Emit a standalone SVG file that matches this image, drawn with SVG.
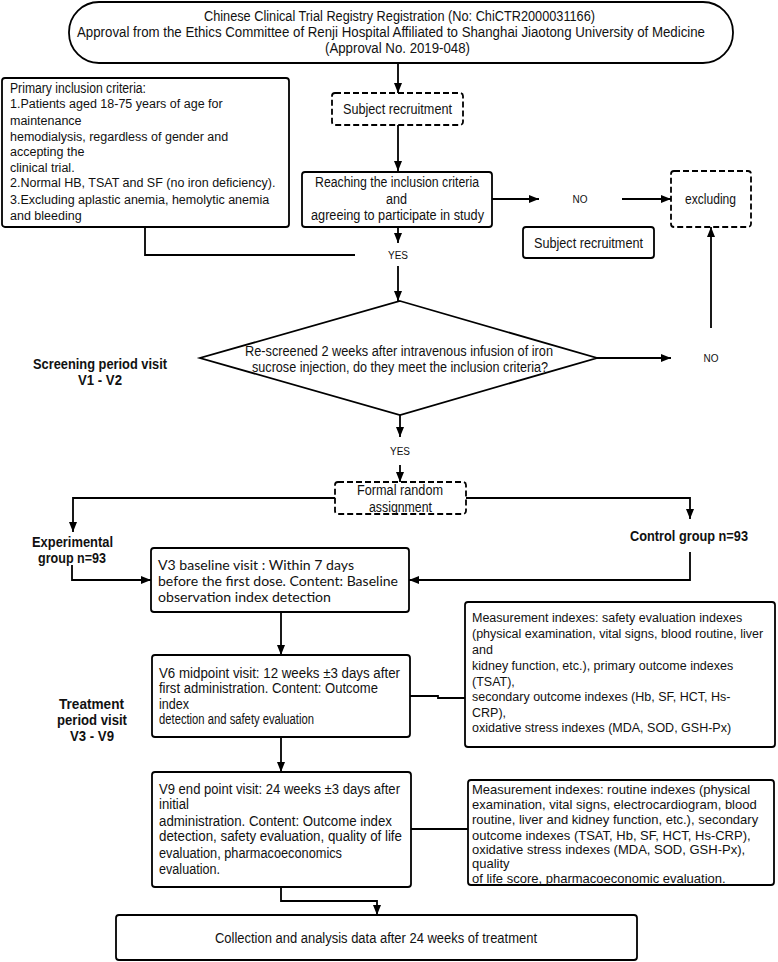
<svg xmlns="http://www.w3.org/2000/svg" width="778" height="962" viewBox="0 0 778 962">
<defs>
<marker id="a" viewBox="0 0 10 8" refX="10" refY="4" markerWidth="10" markerHeight="8" orient="auto" markerUnits="userSpaceOnUse">
<path d="M0,0 L10,4 L0,8 z" fill="#000"/>
</marker>
</defs>
<style>
rect,polygon{fill:#fff;stroke:#000;stroke-width:1.8}
.d{stroke-dasharray:6,3}
.c line,.c polyline{fill:none;stroke:#000;stroke-width:1.8}
text{font-family:"Liberation Sans",Arial,sans-serif;font-size:14px;fill:#111;dominant-baseline:central}
.b{font-weight:bold;font-size:15px}
.s{font-size:10px;text-anchor:middle}
.r{font-size:12.5px}
.r2{font-size:13px}
.o{font-family:Lato,"Open Sans",sans-serif;font-size:13px}
</style>
<rect width="778" height="962" style="fill:#fff;stroke:none"/>
<g class="c">
<line x1="398" y1="63" x2="398" y2="93" marker-end="url(#a)"/>
<line x1="398" y1="125" x2="398" y2="171" marker-end="url(#a)"/>
<line x1="398" y1="228" x2="398" y2="243" marker-end="url(#a)"/>
<polyline points="145,227 145,255 355,255"/>
<line x1="398" y1="266" x2="398" y2="301" marker-end="url(#a)"/>
<line x1="492" y1="199" x2="539" y2="199" marker-end="url(#a)"/>
<line x1="622" y1="199" x2="671" y2="199" marker-end="url(#a)"/>
<line x1="597" y1="358" x2="671" y2="358" marker-end="url(#a)"/>
<line x1="711" y1="328" x2="711" y2="227" marker-end="url(#a)"/>
<line x1="400" y1="415" x2="400" y2="437" marker-end="url(#a)"/>
<line x1="400" y1="465" x2="400" y2="482" marker-end="url(#a)"/>
<polyline points="335,498 73,498 73,532" marker-end="url(#a)"/>
<polyline points="466,498 690,498 690,519" marker-end="url(#a)"/>
<polyline points="72,565 72,580 151,580" marker-end="url(#a)"/>
<polyline points="690,552 690,580 409,580" marker-end="url(#a)"/>
<line x1="281" y1="612" x2="281" y2="655" marker-end="url(#a)"/>
<polyline points="410,696 438,696 438,698 465,698"/>
<line x1="281" y1="737" x2="281" y2="772" marker-end="url(#a)"/>
<line x1="411" y1="829" x2="468" y2="829"/>
<polyline points="281,887 281,901 377,901 377,915" marker-end="url(#a)"/>
</g>
<g id="registry">
<rect x="69" y="2" width="664" height="61" rx="30"/>
<text x="204" y="16" textLength="391" lengthAdjust="spacingAndGlyphs">Chinese Clinical Trial Registry Registration (No: ChiCTR2000031166)</text>
<text x="77" y="32" textLength="628" lengthAdjust="spacingAndGlyphs">Approval from the Ethics Committee of Renji Hospital Affiliated to Shanghai Jiaotong University of Medicine</text>
<text x="325" y="48" textLength="145" lengthAdjust="spacingAndGlyphs">(Approval No. 2019-048)</text>
</g>
<g id="recruit">
<rect class="d" x="332" y="93" width="131" height="32" rx="3"/>
<text x="343" y="109" textLength="109" lengthAdjust="spacingAndGlyphs">Subject recruitment</text>
</g>
<g id="criteria">
<rect x="2" y="78" width="287" height="149" rx="3"/>
<text x="10" y="88" textLength="136" lengthAdjust="spacingAndGlyphs">Primary inclusion criteria:</text>
<text class="r" x="10" y="104">1.Patients aged 18-75 years of age for</text>
<text class="r" x="10" y="121">maintenance</text>
<text class="r" x="10" y="137">hemodialysis, regardless of gender and</text>
<text class="r" x="10" y="152">accepting the</text>
<text class="r" x="10" y="168">clinical trial.</text>
<text class="r" x="10" y="183">2.Normal HB, TSAT and SF (no iron deficiency).</text>
<text class="r" x="10" y="200">3.Excluding aplastic anemia, hemolytic anemia</text>
<text class="r" x="10" y="216">and bleeding</text>
</g>
<g id="reaching">
<rect x="302" y="172" width="190" height="55" rx="3"/>
<text x="315" y="182" textLength="164" lengthAdjust="spacingAndGlyphs">Reaching the inclusion criteria</text>
<text x="386" y="199" textLength="21" lengthAdjust="spacingAndGlyphs">and</text>
<text x="311" y="215" textLength="173" lengthAdjust="spacingAndGlyphs">agreeing to participate in study</text>
</g>
<g id="no1"><text class="s" x="580" y="199">NO</text></g>
<g id="excluding">
<rect class="d" x="671" y="171" width="80" height="56" rx="3"/>
<text x="685" y="199" textLength="51" lengthAdjust="spacingAndGlyphs">excluding</text>
</g>
<g id="recruit2">
<rect x="523" y="227" width="131" height="31" rx="3"/>
<text x="534" y="243" textLength="109" lengthAdjust="spacingAndGlyphs">Subject recruitment</text>
</g>
<g id="yes1"><text class="s" x="398" y="255">YES</text></g>
<g id="rescreen">
<polygon points="400,301 597,358 400,415 200,358"/>
<text x="245" y="351" textLength="308" lengthAdjust="spacingAndGlyphs">Re-screened 2 weeks after intravenous infusion of iron</text>
<text x="252" y="367" textLength="296" lengthAdjust="spacingAndGlyphs">sucrose injection, do they meet the inclusion criteria?</text>
</g>
<g id="screening">
<text class="b" x="33" y="363" textLength="134" lengthAdjust="spacingAndGlyphs">Screening period visit</text>
<text class="b" x="78" y="379" textLength="44" lengthAdjust="spacingAndGlyphs">V1 - V2</text>
</g>
<g id="no2"><text class="s" x="711" y="358">NO</text></g>
<g id="yes2"><text class="s" x="400" y="451">YES</text></g>
<g id="random">
<rect class="d" x="335" y="482" width="131" height="32" rx="3"/>
<text x="357" y="490" textLength="86" lengthAdjust="spacingAndGlyphs">Formal random</text>
<text x="369" y="507" textLength="63" lengthAdjust="spacingAndGlyphs">assignment</text>
</g>
<g id="experimental">
<text class="b" x="32" y="541" textLength="81" lengthAdjust="spacingAndGlyphs">Experimental</text>
<text class="b" x="38" y="557" textLength="68" lengthAdjust="spacingAndGlyphs">group n=93</text>
</g>
<g id="control">
<text class="b" x="630" y="535" textLength="118" lengthAdjust="spacingAndGlyphs">Control group n=93</text>
</g>
<g id="v3">
<rect x="151" y="548" width="258" height="64" rx="3"/>
<text class="o" x="158" y="565" textLength="196" lengthAdjust="spacingAndGlyphs">V3 baseline visit : Within 7 days</text>
<text class="o" x="158" y="581" textLength="240" lengthAdjust="spacingAndGlyphs">before the first dose. Content: Baseline</text>
<text class="o" x="158" y="597" textLength="173" lengthAdjust="spacingAndGlyphs">observation index detection</text>
</g>
<g id="meas1">
<rect x="465" y="602" width="310" height="145" rx="3"/>
<text class="r" x="472" y="618">Measurement indexes: safety evaluation indexes</text>
<text class="r" x="472" y="634">(physical examination, vital signs, blood routine, liver</text>
<text class="r" x="472" y="650">and</text>
<text class="r" x="472" y="666">kidney function, etc.), primary outcome indexes</text>
<text class="r" x="472" y="682">(TSAT),</text>
<text class="r" x="472" y="697">secondary outcome indexes (Hb, SF, HCT, Hs-</text>
<text class="r" x="472" y="713">CRP),</text>
<text class="r" x="472" y="728">oxidative stress indexes (MDA, SOD, GSH-Px)</text>
</g>
<g id="v6">
<rect x="152" y="655" width="258" height="82" rx="3"/>
<text x="159" y="673" textLength="241" lengthAdjust="spacingAndGlyphs">V6 midpoint visit: 12 weeks ±3 days after</text>
<text x="159" y="688" textLength="219" lengthAdjust="spacingAndGlyphs">first administration. Content: Outcome</text>
<text x="159" y="704" textLength="30" lengthAdjust="spacingAndGlyphs">index</text>
<text x="159" y="719" textLength="155" lengthAdjust="spacingAndGlyphs">detection and safety evaluation</text>
</g>
<g id="treatment">
<text class="b" x="59" y="703" textLength="65" lengthAdjust="spacingAndGlyphs">Treatment</text>
<text class="b" x="57" y="719" textLength="70" lengthAdjust="spacingAndGlyphs">period visit</text>
<text class="b" x="70" y="735" textLength="44" lengthAdjust="spacingAndGlyphs">V3 - V9</text>
</g>
<g id="v9">
<rect x="152" y="772" width="259" height="115" rx="3"/>
<text x="159" y="789" textLength="241" lengthAdjust="spacingAndGlyphs">V9 end point visit: 24 weeks ±3 days after</text>
<text x="159" y="804" textLength="30" lengthAdjust="spacingAndGlyphs">initial</text>
<text x="159" y="821" textLength="233" lengthAdjust="spacingAndGlyphs">administration. Content: Outcome index</text>
<text x="159" y="836" textLength="243" lengthAdjust="spacingAndGlyphs">detection, safety evaluation, quality of life</text>
<text x="159" y="853" textLength="183" lengthAdjust="spacingAndGlyphs">evaluation, pharmacoeconomics</text>
<text x="159" y="869" textLength="61" lengthAdjust="spacingAndGlyphs">evaluation.</text>
</g>
<g id="meas2">
<rect x="468" y="780" width="306" height="105" rx="3"/>
<text class="r2" x="472" y="789">Measurement indexes: routine indexes (physical</text>
<text class="r2" x="472" y="804">examination, vital signs, electrocardiogram, blood</text>
<text class="r2" x="472" y="819">routine, liver and kidney function, etc.), secondary</text>
<text class="r2" x="472" y="835">outcome indexes (TSAT, Hb, SF, HCT, Hs-CRP),</text>
<text class="r2" x="472" y="849">oxidative stress indexes (MDA, SOD, GSH-Px),</text>
<text class="r2" x="472" y="863">quality</text>
<text class="r2" x="472" y="878">of life score, pharmacoeconomic evaluation.</text>
</g>
<g id="collection">
<rect x="116" y="915" width="521" height="45" rx="3"/>
<text x="215" y="938" textLength="322" lengthAdjust="spacingAndGlyphs">Collection and analysis data after 24 weeks of treatment</text>
</g>
</svg>
